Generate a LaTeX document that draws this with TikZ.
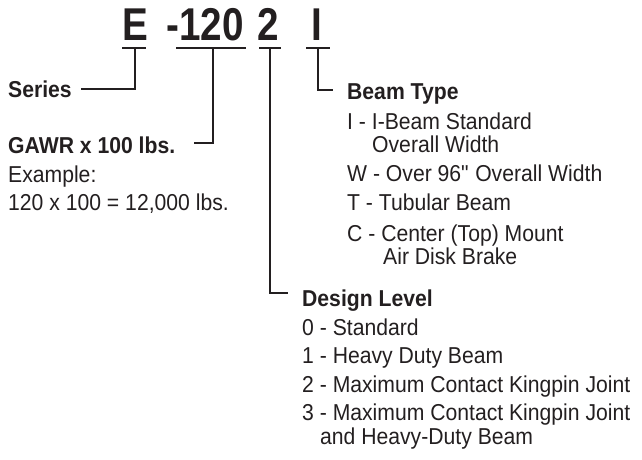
\documentclass[tikz,border=0pt]{standalone}
\usepackage{fontspec}
\usepackage{xcolor}
\setmainfont[FakeStretch=0.92]{Liberation Sans}
\newfontfamily\codefont[FakeStretch=0.84]{Liberation Sans}
\usetikzlibrary{positioning}
\definecolor{ink}{HTML}{231F20}

\begin{document}
\begin{tikzpicture}[x=1pt,y=-1pt,
    code/.style={font=\codefont\bfseries\fontsize{46}{46}\selectfont,text=ink,inner sep=0,anchor=base west},
    head/.style={font=\bfseries\fontsize{23}{23}\selectfont,text=ink,inner sep=0,anchor=base west},
    item/.style={font=\fontsize{23}{23}\selectfont,text=ink,inner sep=0,anchor=base west},
    uline/.style={draw=ink,line width=2pt},
    link/.style={draw=ink,line width=1.5pt}]
    \useasboundingbox (0,0) rectangle (642,459);

    % part number
    \node[code] (series) at (122,40) {E};
    \node[code,anchor=base east] (gawr) at (244,40) {-120};
    \node[code] (level) at (257,40) {2};
    \node[code] (beam) at (311,40) {I};

    \coordinate (eTick) at (135,48);
    \coordinate (gTick) at (213,48);
    \coordinate (lTick) at (270,48);
    \coordinate (bTick) at (318,48);

    \draw[uline] (122,48) -- (146,48);
    \draw[uline] (176,48) -- (246,48);
    \draw[uline] (259,48) -- (281,48);
    \draw[uline] (306,48) -- (330,48);

    % labels on the left
    \node[head] (seriesLbl) at (8,97) {Series};
    \node[head] (gawrLbl) at (8,153) {GAWR x 100 lbs.};
    \node[item] (gawrEx) at (8,182) {Example:};
    \node[item] (gawrCalc) at (8,210) {120 x 100 = 12,000 lbs.};

    % beam type
    \node[head] (beamLbl) at (347,99) {Beam Type};
    \node[item] (beamI) at (347,129) {I - I-Beam Standard};
    \node[item] (beamIb) at (372,152) {Overall Width};
    \node[item] (beamW) at (347,181) {W - Over 96\textquotedbl{} Overall Width};
    \node[item] (beamT) at (347,210) {T - Tubular Beam};
    \node[item] (beamC) at (347,241) {C - Center (Top) Mount};
    \node[item] (beamCb) at (383,264) {Air Disk Brake};

    % design level
    \node[head] (levelLbl) at (302,306) {Design Level};
    \node[item] (level0) at (302,335) {0 - Standard};
    \node[item] (level1) at (302,363) {1 - Heavy Duty Beam};
    \node[item] (level2) at (302,392) {2 - Maximum Contact Kingpin Joint};
    \node[item] (level3) at (302,420) {3 - Maximum Contact Kingpin Joint};
    \node[item] (level3b) at (320,444) {and Heavy-Duty Beam};

    % leader lines
    \coordinate (seriesEnd) at (81,89);
    \coordinate (gawrEnd) at (194,143);
    \coordinate (levelEnd) at (288,293);
    \coordinate (beamEnd) at (333,90);

    \draw[link] (eTick) |- (seriesEnd);
    \draw[link] (gTick) |- (gawrEnd);
    \draw[link] (lTick) |- (levelEnd);
    \draw[link] (bTick) |- (beamEnd);
\end{tikzpicture}
\end{document}
